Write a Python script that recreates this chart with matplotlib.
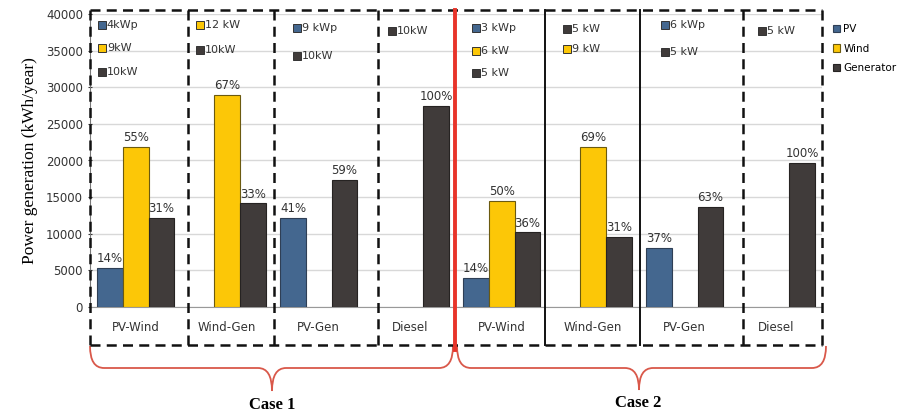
import numpy as np
import matplotlib
matplotlib.use("Agg")
import matplotlib.pyplot as plt
from matplotlib.path import Path
from matplotlib.patches import PathPatch

# data
categories = ["PV-Wind", "Wind-Gen", "PV-Gen", "Diesel",
              "PV-Wind", "Wind-Gen", "PV-Gen", "Diesel"]
pv = [5300, 0, 12200, 0, 4000, 0, 8100, 0]
wind = [21900, 29000, 0, 0, 14500, 21900, 0, 0]
gen = [12200, 14150, 17300, 27500, 10200, 9600, 13700, 19700]
pv_pct = ["14%", "", "41%", "", "14%", "", "37%", ""]
wind_pct = ["55%", "67%", "", "", "50%", "69%", "", ""]
gen_pct = ["31%", "33%", "59%", "100%", "36%", "31%", "63%", "100%"]
sizes = [
    [("PV", "4kWp"), ("Wind", "9kW"), ("Generator", "10kW")],
    [("Wind", "12 kW"), ("Generator", "10kW")],
    [("PV", "9 kWp"), ("Generator", "10kW")],
    [("Generator", "10kW")],
    [("PV", "3 kWp"), ("Wind", "6 kW"), ("Generator", "5 kW")],
    [("Generator", "5 kW"), ("Wind", "9 kW")],
    [("PV", "6 kWp"), ("Generator", "5 kW")],
    [("Generator", "5 kW")],
]
cases = ["Case 1", "Case 2"]

colors = {"PV": "#44678f", "Wind": "#fcc707", "Generator": "#403b3a"}
edges = {"PV": "#2f3f55", "Wind": "#6b5a10", "Generator": "#262322"}

fig = plt.figure(figsize=(8.98, 4.19), dpi=100)
ax = fig.add_axes([90 / 898, 1 - 307 / 419, 732 / 898, 293 / 419])

x = np.arange(len(categories))
w = 0.28
series = [("PV", pv, pv_pct, -w), ("Wind", wind, wind_pct, 0), ("Generator", gen, gen_pct, w)]
for name, vals, pcts, off in series:
    idx = [i for i, v in enumerate(vals) if v > 0]
    hv = [vals[i] for i in idx]
    ax.bar(x[idx] + off, hv, width=w, color=colors[name], edgecolor=edges[name],
           linewidth=0.8, label=name, zorder=3)
    for i in idx:
        ax.annotate(pcts[i], (x[i] + off, vals[i]), xytext=(0, 2), textcoords="offset points",
                    ha="center", va="bottom", fontsize=8.5, color="#333333")

ax.set_xlim(-0.5, 7.5)
ax.set_ylim(0, 40000)
ax.set_yticks(np.arange(0, 40001, 5000))
ax.set_xticks(x)
ax.set_xticklabels(categories, fontsize=8.5, color="#333333")
ax.tick_params(axis="x", length=0, pad=10)
ax.tick_params(axis="y", labelsize=8.5, colors="#333333", length=3, direction="inout")
ax.grid(axis="y", color="#d8d8d8", linewidth=1, zorder=0)
for s in ["top", "right"]:
    ax.spines[s].set_visible(False)
ax.spines["left"].set_color("#777777")
ax.spines["bottom"].set_color("#999999")
ax.set_ylabel("Power generation (kWh/year)", family="Liberation Serif", fontsize=12.5, labelpad=6)

# small labels with sizes inside each group
row_x = [-0.37, -0.30, -0.24, -0.20, -0.28, -0.29, -0.22, -0.16]
row_y = [(38500, 3200), (38500, 3400), (38100, 3800), (37700, 0),
         (38100, 3100), (37950, 2700), (38500, 3700), (37700, 0)]
for i, items in enumerate(sizes):
    y0, dy = row_y[i]
    for k, (name, txt) in enumerate(items):
        yy = y0 - k * dy
        ax.plot(x[i] + row_x[i], yy, marker="s", ms=6, color=colors[name],
                mec="#333333", mew=0.7, zorder=4, clip_on=False)
        ax.text(x[i] + row_x[i] + 0.055, yy, txt, fontsize=8, color="#333333",
                va="center", ha="left", zorder=4)

ax.legend(loc="upper left", bbox_to_anchor=(1.005, 0.99), frameon=False, fontsize=7.5,
          handlelength=0.7, handleheight=0.7, handletextpad=0.3, labelspacing=0.9,
          borderpad=0.2)

# overlay in pixel space for the dashed boxes and braces
ov = fig.add_axes([0, 0, 1, 1], zorder=5)
ov.set_xlim(0, 898)
ov.set_ylim(419, 0)
ov.axis("off")
ov.patch.set_alpha(0)

top, bot = 10, 345
dash = dict(color="#111111", lw=1.8, linestyle=(0, (4, 2.5)))
ov.plot([90, 822], [top, top], **dash)
ov.plot([90, 822], [bot, bot], **dash)
for xx in [90, 188, 274, 378, 743, 822]:
    ov.plot([xx, xx], [top, bot], **dash)
for xx in [545, 640]:
    ov.plot([xx, xx], [top, bot], color="#111111", lw=1.4)
ov.plot([455, 455], [top, 350], color="#e8342a", lw=2.8)


def brace(x0, x1, xm, ytop, ymid, ytip, r=14):
    verts = [(x0, ytop), (x0, ymid), (x0 + r, ymid),
             (xm - r, ymid), (xm, ymid), (xm, ytip),
             (xm, ymid), (xm + r, ymid),
             (x1 - r, ymid), (x1, ymid), (x1, ytop)]
    codes = [Path.MOVETO, Path.CURVE3, Path.CURVE3,
             Path.LINETO, Path.CURVE3, Path.CURVE3,
             Path.CURVE3, Path.CURVE3,
             Path.LINETO, Path.CURVE3, Path.CURVE3]
    ov.add_patch(PathPatch(Path(verts, codes), fill=False, edgecolor="#d9584a", lw=1.3))


brace(90, 453, 272, 346, 368, 391)
brace(457, 826, 639, 346, 368, 390)
ov.text(272, 405, cases[0], ha="center", va="center", family="Liberation Serif",
        fontweight="bold", fontsize=12)
ov.text(638, 403, cases[1], ha="center", va="center", family="Liberation Serif",
        fontweight="bold", fontsize=12)

fig.savefig("out.png", dpi=100)
